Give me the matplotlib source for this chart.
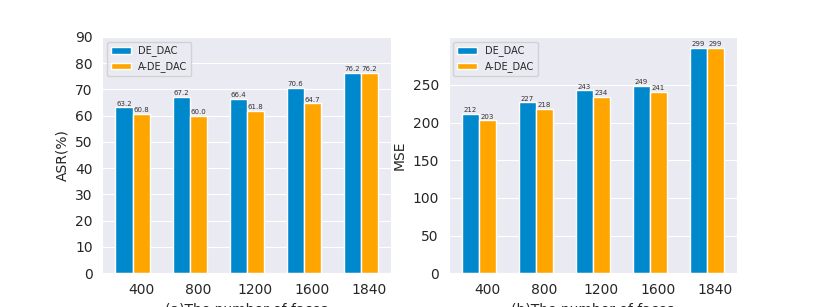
import numpy as np
import matplotlib
matplotlib.use("Agg")
import matplotlib.pyplot as plt
import seaborn as sns

sns.set_style("darkgrid")

faces = ['400', '800', '1200', '1600', '1840']
asr_de = [63.2, 67.2, 66.4, 70.6, 76.2]
asr_ade = [60.8, 60.0, 61.8, 64.7, 76.2]
mse_de = [212, 227, 243, 249, 299]
mse_ade = [203, 218, 234, 241, 299]

c_de = '#0088cc'
c_ade = '#ffa500'
w = 0.3
x = np.arange(len(faces))

fig, axs = plt.subplots(1, 2, figsize=(8.19, 3.07), dpi=100)

panels = [
    (axs[0], asr_de, asr_ade, 'ASR(%)', '(a)The number of faces', '%.1f'),
    (axs[1], mse_de, mse_ade, 'MSE', '(b)The number of faces', '%d'),
]

for ax, a, b, ylab, xlab, fmt in panels:
    b1 = ax.bar(x - w, a, w, color=c_de, label='DE_DAC')
    b2 = ax.bar(x, b, w, color=c_ade, label='A-DE_DAC')
    ax.bar_label(b1, fmt=fmt, fontsize=5, padding=0.5, color='#333333')
    ax.bar_label(b2, fmt=fmt, fontsize=5, padding=0.5, color='#333333')
    ax.set_xticks(x)
    ax.set_xticklabels(faces, fontsize=10)
    # vertical grid only on every other group
    ax.set_xticks([0, 2, 4], minor=True)
    ax.grid(False, axis='x', which='major')
    ax.grid(True, axis='x', which='minor', color='white')
    ax.tick_params(axis='y', labelsize=10)
    ax.set_ylabel(ylab, fontsize=10)
    ax.set_xlabel(xlab, fontsize=10)
    ax.legend(loc='upper left', fontsize=7)

axs[0].set_ylim(0, 90)
axs[0].set_yticks(range(0, 91, 10))
axs[1].set_yticks(range(0, 251, 50))

fig.savefig('out.png')
